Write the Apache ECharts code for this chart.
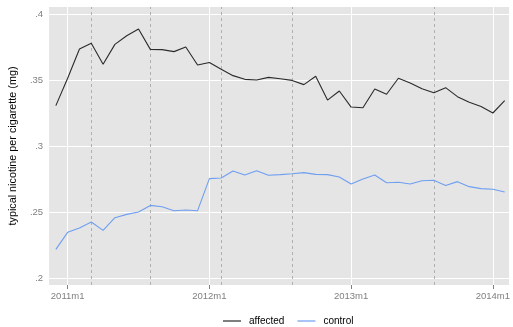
<!DOCTYPE html>
<html>
<head>
<meta charset="utf-8">
<script src="https://cdn.jsdelivr.net/npm/echarts@6/dist/echarts.min.js"></script>
<style>
  html, body { margin: 0; padding: 0; background: #fff; }
  #chart { width: 513px; height: 327px; }
</style>
</head>
<body>
<div id="chart"></div>
<script>
// Monthly periods, Stata-style labels
const months = [
  '2010m12',
  '2011m1', '2011m2', '2011m3', '2011m4', '2011m5', '2011m6',
  '2011m7', '2011m8', '2011m9', '2011m10', '2011m11', '2011m12',
  '2012m1', '2012m2', '2012m3', '2012m4', '2012m5', '2012m6',
  '2012m7', '2012m8', '2012m9', '2012m10', '2012m11', '2012m12',
  '2013m1', '2013m2', '2013m3', '2013m4', '2013m5', '2013m6',
  '2013m7', '2013m8', '2013m9', '2013m10', '2013m11', '2013m12',
  '2014m1', '2014m2'
];

// Typical nicotine per cigarette (mg)
const affected = [
  0.3306, 0.3513, 0.3735, 0.3778, 0.3619, 0.3770, 0.3835, 0.3886, 0.3732, 0.3730,
  0.3715, 0.3750, 0.3614, 0.3633, 0.3581, 0.3533, 0.3505, 0.3500, 0.3520, 0.3510,
  0.3497, 0.3465, 0.3528, 0.3348, 0.3417, 0.3295, 0.3290, 0.3432, 0.3392, 0.3513,
  0.3477, 0.3434, 0.3404, 0.3442, 0.3374, 0.3331, 0.3300, 0.3250, 0.3343
];
const control = [
  0.2217, 0.2346, 0.2379, 0.2424, 0.2361, 0.2457, 0.2482, 0.2500, 0.2550, 0.2540,
  0.2510, 0.2515, 0.2510, 0.2753, 0.2758, 0.2811, 0.2780, 0.2813, 0.2778, 0.2783,
  0.2790, 0.2798, 0.2785, 0.2783, 0.2765, 0.2712, 0.2750, 0.2780, 0.2722, 0.2725,
  0.2712, 0.2737, 0.2740, 0.2700, 0.2730, 0.2692, 0.2677, 0.2672, 0.2652
];

// Axis tick labels
const xTickLabels = ['2011m1', '2012m1', '2013m1', '2014m1'];
const yTicks = [0.2, 0.25, 0.3, 0.35, 0.4];

// Event months marked with dashed reference lines
const eventMonths = ['2011m3', '2011m8', '2012m2', '2012m8', '2013m8'];

const idx = m => months.indexOf(m);
const xTickValues = xTickLabels.map(idx);
const yLabel = v => String(v).replace(/^0/, '');

const chart = echarts.init(document.getElementById('chart'), null, { renderer: 'canvas' });

const textColor = '#7f7f7f';
const font = 'Liberation Sans, Arial, sans-serif';
const affectedColor = '#2b2b2b';
const controlColor = '#6f9ff0';

const gridLines = [
  ...xTickValues.map(v => ({ xAxis: v })),
  ...yTicks.map(v => ({ yAxis: v }))
];

chart.setOption({
  animation: false,
  backgroundColor: '#ffffff',
  grid: {
    left: 48, right: 0, top: 7, bottom: 42,
    show: true, backgroundColor: '#e5e5e5', borderWidth: 0
  },
  legend: {
    data: [
      { name: 'affected', icon: 'rect', itemStyle: { color: affectedColor } },
      { name: 'control', icon: 'rect', itemStyle: { color: controlColor } }
    ],
    top: 311,
    left: 218,
    itemWidth: 18,
    itemHeight: 1.2,
    itemGap: 13,
    textStyle: { fontFamily: font, fontSize: 10, color: '#000', padding: [0, 0, 0, 3] }
  },
  xAxis: {
    type: 'value',
    min: -0.57,
    max: 38.37,
    axisLine: { show: false },
    splitLine: { show: false },
    axisTick: {
      show: true, customValues: xTickValues, length: 4,
      lineStyle: { color: textColor, width: 1 }
    },
    axisLabel: {
      customValues: xTickValues,
      formatter: v => months[Math.round(v)],
      fontFamily: font, fontSize: 9.5, color: textColor, margin: 6
    }
  },
  yAxis: {
    type: 'value',
    min: 0.4 - 271 / 1320,
    max: 0.4 + 7 / 1320,
    name: 'typical nicotine per cigarette (mg)',
    nameLocation: 'middle',
    nameGap: 19,
    nameTextStyle: { fontFamily: font, fontSize: 10.8, color: '#000' },
    axisLine: { show: false },
    splitLine: { show: false },
    axisTick: {
      show: true, customValues: yTicks, length: 4,
      lineStyle: { color: textColor, width: 1 }
    },
    axisLabel: {
      customValues: yTicks,
      formatter: yLabel,
      fontFamily: font, fontSize: 9.5, color: textColor, margin: 6
    }
  },
  series: [
    {
      name: 'gridlines',
      type: 'line',
      data: [],
      z: 1,
      silent: true,
      markLine: {
        silent: true,
        symbol: ['none', 'none'],
        z: 1,
        label: { show: false },
        lineStyle: { color: '#ffffff', width: 1, type: 'solid' },
        emphasis: { disabled: true },
        data: gridLines
      }
    },
    {
      name: 'events',
      type: 'line',
      data: [],
      z: 1,
      silent: true,
      markLine: {
        silent: true,
        symbol: ['none', 'none'],
        z: 1,
        label: { show: false },
        lineStyle: { color: '#b0b0b0', width: 1, type: [3, 3] },
        emphasis: { disabled: true },
        data: eventMonths.map(m => ({ xAxis: idx(m) }))
      }
    },
    {
      name: 'affected',
      type: 'line',
      data: affected.map((v, i) => [i, v]),
      symbol: 'none',
      z: 3,
      lineStyle: { color: affectedColor, width: 1.1 },
      itemStyle: { color: affectedColor }
    },
    {
      name: 'control',
      type: 'line',
      data: control.map((v, i) => [i, v]),
      symbol: 'none',
      z: 3,
      lineStyle: { color: controlColor, width: 1.1 },
      itemStyle: { color: controlColor }
    }
  ]
});
</script>
</body>
</html>
